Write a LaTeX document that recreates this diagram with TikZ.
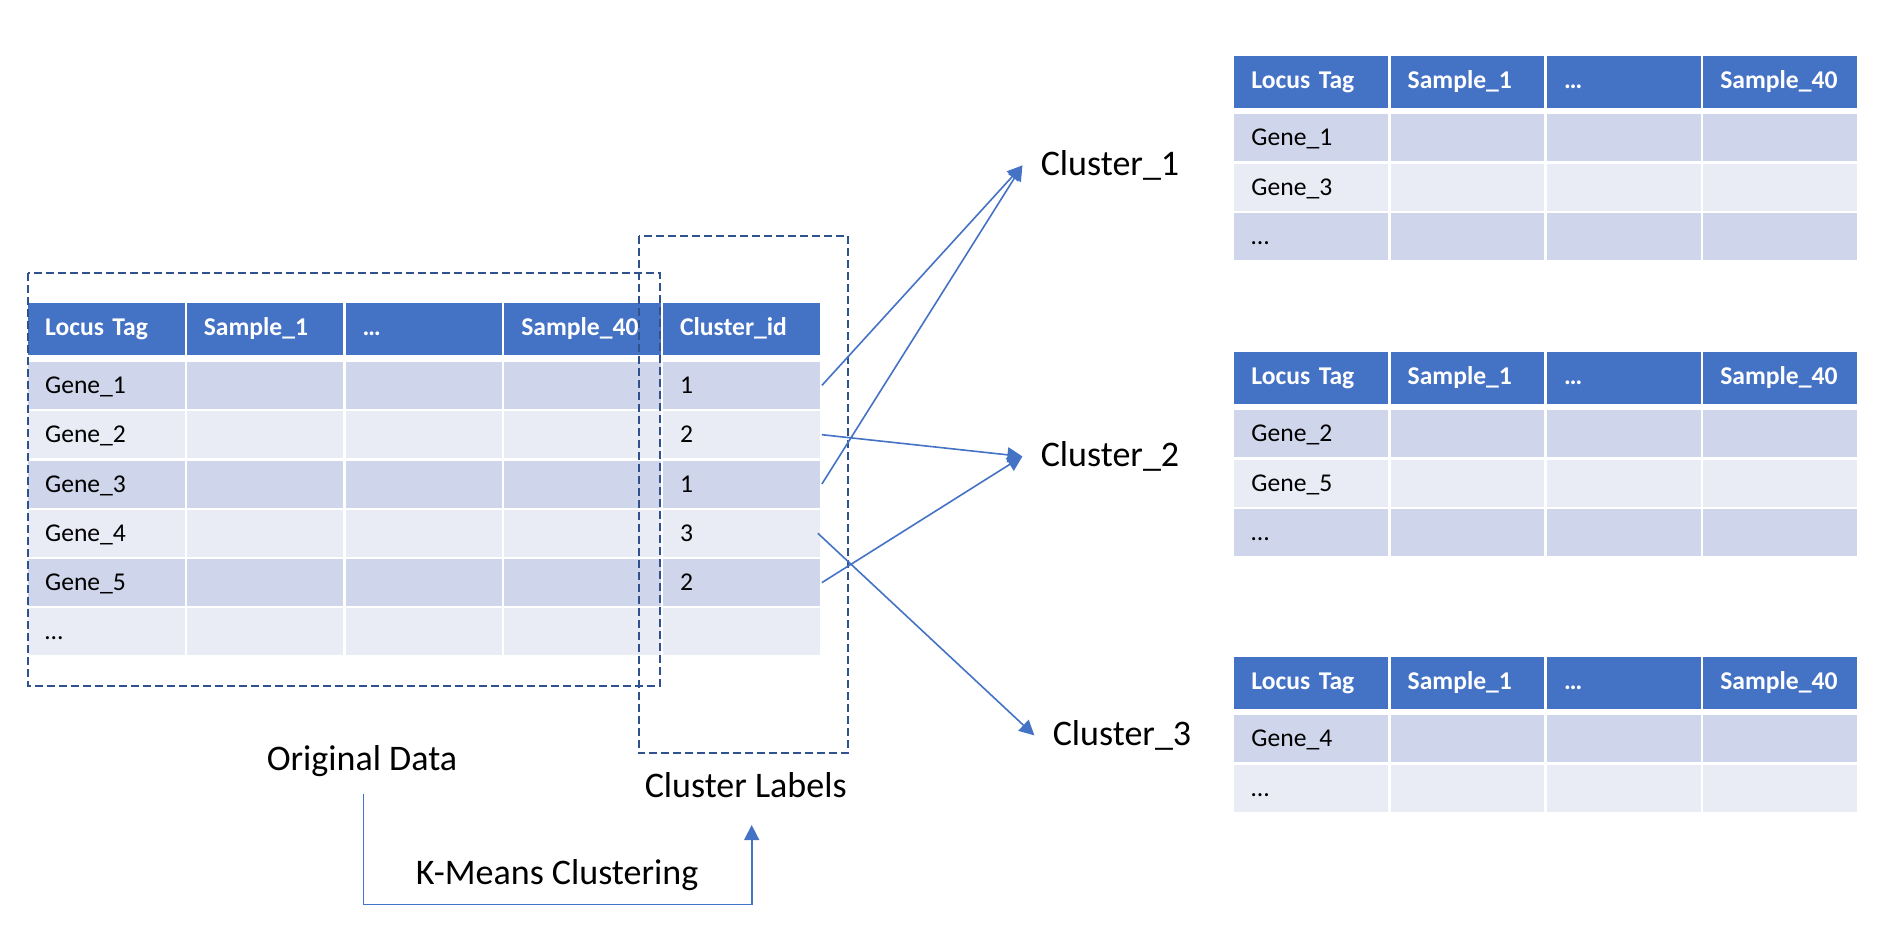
\documentclass[tikz,border=0pt]{standalone}
\usepackage{fontspec}
\setmainfont{Carlito}
\usetikzlibrary{arrows.meta}

\definecolor{hdrblue}{HTML}{4472C4}
\definecolor{rowdark}{HTML}{CFD5EA}
\definecolor{rowlight}{HTML}{E9EBF5}
\definecolor{flowblue}{HTML}{4472C4}
\definecolor{boxblue}{HTML}{2F528F}

% One table of gene rows: #1 name prefix, #2 header top, #3 row labels
\newcommand\genetable[3]{%
  \foreach \t [count=\c from 0] in {Locus Tag,Sample\_1,…,Sample\_40}
    \node[hcell, text width=59.75pt] (#1-0-\c) at (1234+\c*156.3, #2) {\t};
  \foreach \g [count=\r] in {#3} {
    \ifodd\r \def\rf{rowdark}\else \def\rf{rowlight}\fi
    \foreach \c in {0,...,3}
      \node[bcell, fill=\rf, text width=59.75pt] (#1-\r-\c)
        at (1234+\c*156.3, #2+58.5+\r*49.3-49.3) {\ifnum\c=0 \g\fi};
  }%
}

\begin{document}
\begin{tikzpicture}[x=0.5pt, y=-0.5pt,
  cell/.style={draw=none, anchor=north west, inner xsep=8.5pt, inner ysep=0pt,
    align=left, text height=10pt,
    font=\fontsize{12.8}{15}\selectfont},
  hcell/.style={cell, fill=hdrblue, text=white, minimum height=26pt,
    text depth=3.8pt, font=\fontsize{12.8}{15}\selectfont\bfseries},
  bcell/.style={cell, text=black, minimum height=23.5pt, text depth=2pt},
  biglabel/.style={anchor=base, inner sep=0pt, font=\fontsize{18}{21}\selectfont},
  clusterlabel/.style={anchor=base west, inner xsep=9pt, inner ysep=0pt,
    font=\fontsize{18}{21}\selectfont},
  dashbox/.style={draw=boxblue, line width=1pt, dash pattern=on 4pt off 2pt},
  flow/.style={draw=flowblue, line width=0.8pt,
    -{Triangle[length=7.5pt, width=7.5pt]}},
]
\useasboundingbox (0,0) rectangle (1886,944);

% original data table with the cluster id column
\foreach \t [count=\c from 0] in {Locus Tag,Sample\_1,…,Sample\_40,Cluster\_id}
  \node[hcell, text width=61.2pt] (L-0-\c) at (27.7+\c*158.75, 303) {\t};
\foreach \g/\k [count=\r] in {Gene\_1/1,Gene\_2/2,Gene\_3/1,Gene\_4/3,Gene\_5/2,…/{}} {
  \ifodd\r \def\rf{rowdark}\else \def\rf{rowlight}\fi
  \foreach \c in {0,...,4}
    \node[bcell, fill=\rf, text width=61.2pt] (L-\r-\c)
      at (27.7+\c*158.75, 361.5+\r*49.3-49.3)
      {\ifnum\c=0 \g\fi\ifnum\c=4 \k\fi};
}

% one table per cluster
\genetable{A}{55.5}{Gene\_1,Gene\_3,…}
\genetable{B}{351.5}{Gene\_2,Gene\_5,…}
\genetable{C}{656.5}{Gene\_4,…}

% dashed groupings
\draw[dashbox] (27.7,273) rectangle (660.3,685.6);
\draw[dashbox] (638.7,235.5) rectangle (848,753);

% captions
\node[biglabel] (orig) at (362,770) {Original Data};
\node[biglabel] (clab) at (745.7,797) {Cluster Labels};
\node[biglabel] (kmeans) at (557,884) {K-Means Clustering};

\node[clusterlabel] (c1) at (1022.4,175.5) {Cluster\_1};
\node[clusterlabel] (c2) at (1022.4,466.5) {Cluster\_2};
\node[clusterlabel] (c3) at (1034.4,745.5) {Cluster\_3};

% assignment of each gene to its cluster
\draw[flow] ([xshift=1pt]L-1-4.east) -- (c1.west);
\draw[flow] ([xshift=1pt]L-3-4.east) -- (c1.west);
\draw[flow] ([xshift=1pt]L-2-4.east) -- (c2.west);
\draw[flow] ([xshift=1pt]L-5-4.east) -- (c2.west);
\draw[flow] ([xshift=-1pt]L-4-4.east) -- (c3.west);

% clustering step
\coordinate (kstart) at (363.5,794);
\coordinate (kend) at (751.7,825);
\draw[flow] (kstart) |- (557,904.5) -| (kend);
\end{tikzpicture}
\end{document}
